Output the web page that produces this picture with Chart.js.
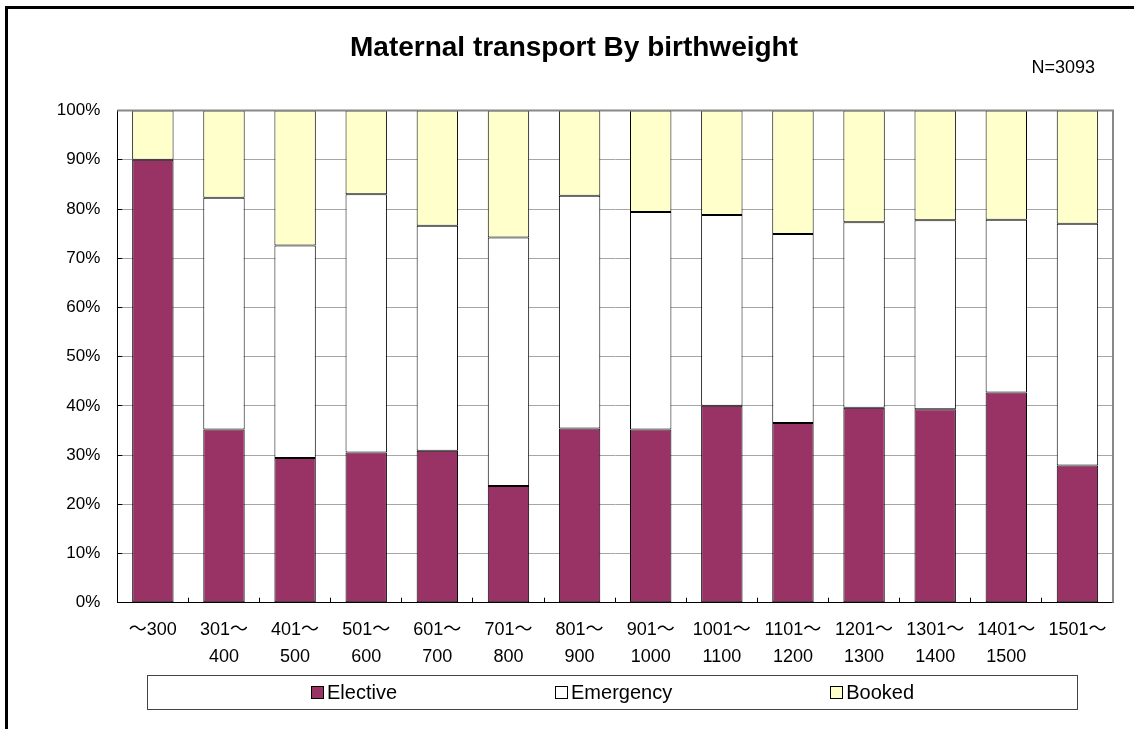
<!DOCTYPE html>
<html>
<head>
<meta charset="utf-8">
<script src="https://cdn.jsdelivr.net/npm/chart.js@4/dist/chart.umd.min.js"></script>
<style>
  body { margin: 0; background: #fff; overflow: hidden; }
  #wrap { position: relative; width: 1134px; height: 729px; }
  #frame { position: absolute; left: 5px; top: 6px; width: 1200px; height: 800px;
           border-left: 3px solid #000; border-top: 3px solid #000; pointer-events: none; }
  #legend { position: absolute; left: 147px; top: 675px; width: 929px; height: 33px;
            border: 1px solid #444; display: flex; justify-content: center; align-items: center;
            gap: 158px; font-family: 'Liberation Sans', 'Noto Sans CJK JP', sans-serif; font-size: 20px; }
  #legend .item { display: flex; align-items: center; }
  #legend .box { width: 11px; height: 11px; border: 1px solid #000; margin-right: 3px; }
</style>
</head>
<body>
<div id="wrap">
  <canvas id="chart" width="1134" height="729"></canvas>
  <div id="legend"></div>
  <div id="frame"></div>
</div>
<script>
// birthweight groups (g)
const categories = [
  ['～300'], ['301～', '400'], ['401～', '500'], ['501～', '600'], ['601～', '700'],
  ['701～', '800'], ['801～', '900'], ['901～', '1000'], ['1001～', '1100'],
  ['1101～', '1200'], ['1201～', '1300'], ['1301～', '1400'], ['1401～', '1500'], ['1501～']
];
// share of transports in each group (%)
const elective  = [90.0, 35.2, 29.4, 30.5, 30.9, 23.7, 35.4, 35.2, 40.0, 36.5, 39.6, 39.3, 42.7, 27.9];
const emergency = [0.0, 47.1, 43.2, 52.5, 45.7, 50.5, 47.3, 44.2, 38.8, 38.4, 37.7, 38.4, 35.1, 49.1];
const booked    = [10.0, 17.7, 27.4, 17.0, 23.4, 25.8, 17.3, 20.6, 21.2, 25.1, 22.7, 22.3, 22.2, 23.0];
const yTicks = [0, 10, 20, 30, 40, 50, 60, 70, 80, 90, 100];
const totalN = 3093;

Chart.defaults.font.family = "'Liberation Sans', 'Noto Sans CJK JP', sans-serif";
Chart.defaults.color = '#000';

// gray top/right edge of the plot + N label
const plotFrame = {
  id: 'plotFrame',
  afterDatasetsDraw(chart) {
    const {ctx, chartArea: a} = chart;
    ctx.save();
    ctx.strokeStyle = '#888';
    ctx.lineWidth = 2;
    ctx.beginPath();
    ctx.moveTo(a.left, a.top);
    ctx.lineTo(a.right, a.top);
    ctx.lineTo(a.right, a.bottom);
    ctx.stroke();
    ctx.restore();
  },
  afterDraw(chart) {
    const ctx = chart.ctx;
    ctx.save();
    ctx.font = "18px 'Liberation Sans', sans-serif";
    ctx.fillStyle = '#000';
    ctx.textAlign = 'right';
    ctx.textBaseline = 'middle';
    ctx.fillText('N=' + totalN, 1095, 68);
    ctx.restore();
  }
};

const barStyle = { borderColor: '#000', borderWidth: 1, borderSkipped: false,
                   barPercentage: 0.582, categoryPercentage: 1 };

const chart = new Chart(document.getElementById('chart'), {
  type: 'bar',
  data: {
    labels: categories,
    datasets: [
      Object.assign({ label: 'Elective', data: elective, backgroundColor: '#993366' }, barStyle),
      Object.assign({ label: 'Emergency', data: emergency, backgroundColor: '#ffffff' }, barStyle),
      Object.assign({ label: 'Booked', data: booked, backgroundColor: '#ffffcc' }, barStyle)
    ]
  },
  options: {
    responsive: false,
    animation: false,
    layout: { padding: { left: 35, right: 21, top: 0, bottom: 0 } },
    plugins: {
      legend: { display: false },
      tooltip: { enabled: false },
      title: {
        display: true,
        text: 'Maternal transport By birthweight',
        font: { size: 28, weight: 'bold' },
        padding: { top: 31, bottom: 46 }
      }
    },
    scales: {
      x: {
        stacked: true,
        afterFit(s) { s.height = 126.3; },
        grid: { display: true, drawOnChartArea: false, drawTicks: true, tickLength: -5,
                tickColor: '#000', offset: true },
        border: { color: '#000', width: 1 },
        ticks: { font: { size: 18, lineHeight: 1.5 }, padding: 18.5, maxRotation: 0, autoSkip: false }
      },
      y: {
        stacked: true,
        min: 0, max: 100,
        afterFit(s) { s.width = 82.3; },
        afterBuildTicks(s) { s.ticks = yTicks.map(v => ({ value: v })); },
        grid: { color: '#a6a6a6', lineWidth: 1, tickLength: -5, tickColor: '#000' },
        border: { color: '#000', width: 1 },
        ticks: { font: { size: 17 }, padding: 22, callback: v => v + '%' }
      }
    }
  },
  plugins: [plotFrame]
});

// legend built from the chart's own legend items
const legendEl = document.getElementById('legend');
chart.options.plugins.legend.labels.generateLabels(chart).forEach(item => {
  const el = document.createElement('div');
  el.className = 'item';
  const box = document.createElement('span');
  box.className = 'box';
  box.style.background = item.fillStyle;
  const txt = document.createElement('span');
  txt.textContent = item.text;
  el.appendChild(box);
  el.appendChild(txt);
  legendEl.appendChild(el);
});
</script>
</body>
</html>
